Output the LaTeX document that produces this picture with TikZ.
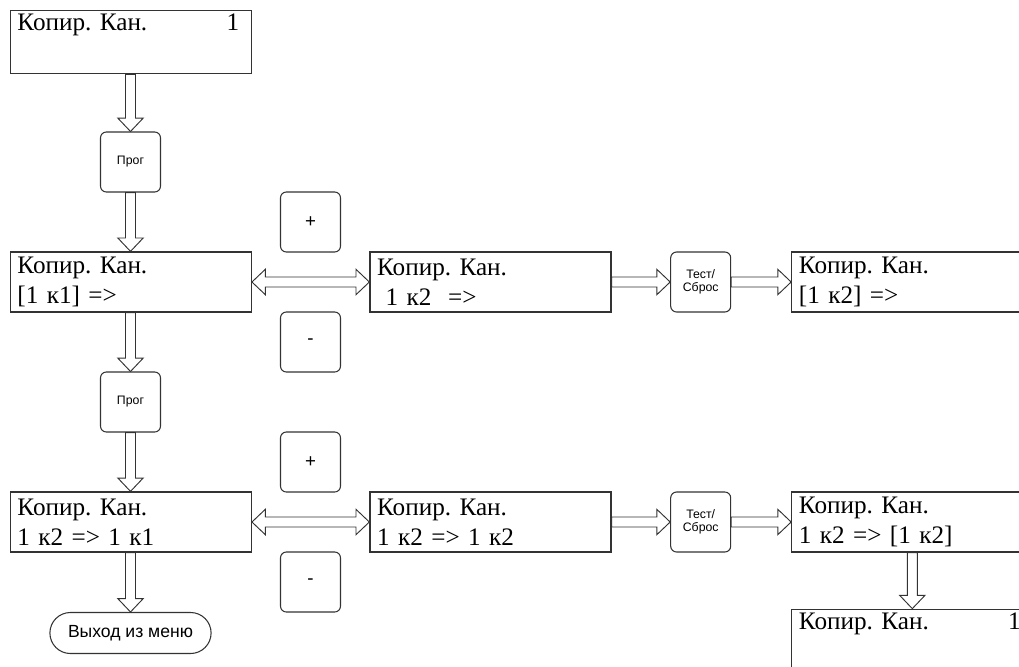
\documentclass[tikz,border=0pt]{standalone}
\usepackage{fontspec}
\setmainfont{Liberation Serif}
\newfontfamily\keyfont{Liberation Sans}
\usetikzlibrary{calc,positioning,shapes.misc}
\frenchspacing

\newcommand{\shaft}{0.15cm}
\newcommand{\head}{0.38cm}
\newcommand{\headlen}{0.4cm}

\begin{document}
\begin{tikzpicture}[
    x=0.03cm, y=-0.03cm,
    screen/.style={draw=black!80, line width=1.1pt, align=left, text width=6.8cm, inner xsep=0.2cm,
                   minimum width=7.23cm, minimum height=1.8cm, font=\fontsize{21.5}{25.6}\selectfont},
    key/.style={draw=black!80, line width=0.9pt, rounded corners=5pt, align=center, minimum width=1.8cm,
                minimum height=1.8cm, inner sep=0pt, font=\keyfont\fontsize{10.5}{11}\selectfont},
    sign/.style={key, font=\keyfont\fontsize{16}{16}\selectfont},
    leave/.style={draw=black!80, line width=0.9pt, rounded rectangle, minimum width=5.07cm,
                  minimum height=1.23cm, font=\keyfont\fontsize{15}{16}\selectfont},
    fat/.style={draw=black!80, line width=0.8pt, fill=white, to path={
        let \p1=($(\tikztotarget)!\headlen!(\tikztostart)$) in
        ($(\tikztostart)!\shaft!90:(\tikztotarget)$) -- ($(\p1)!\shaft!90:(\tikztotarget)$)
        -- ($(\p1)!\head!90:(\tikztotarget)$) -- (\tikztotarget)
        -- ($(\p1)!\head!-90:(\tikztotarget)$) -- ($(\p1)!\shaft!-90:(\tikztotarget)$)
        -- ($(\tikztostart)!\shaft!-90:(\tikztotarget)$) -- cycle}},
    fatboth/.style={draw=black!80, line width=0.8pt, fill=white, to path={
        let \p1=($(\tikztostart)!\headlen!(\tikztotarget)$), \p2=($(\tikztotarget)!\headlen!(\tikztostart)$) in
        (\tikztostart) -- ($(\p1)!\head!90:(\tikztotarget)$) -- ($(\p1)!\shaft!90:(\tikztotarget)$)
        -- ($(\p2)!\shaft!90:(\tikztotarget)$) -- ($(\p2)!\head!90:(\tikztotarget)$) -- (\tikztotarget)
        -- ($(\p2)!\head!-90:(\tikztotarget)$) -- ($(\p2)!\shaft!-90:(\tikztotarget)$)
        -- ($(\p1)!\shaft!-90:(\tikztotarget)$) -- ($(\p1)!\head!-90:(\tikztotarget)$) -- cycle}}
  ]
    \path[use as bounding box, clip] (0,0) rectangle (1019,666);

    % first column
    \node[screen] (start) at (130.8,42) {Копир. Кан.\hfill 1\kern0.15cm\\\strut};
    \node[key] (prog1) at (130.5,162) {Прог};
    \node[screen] (k1) at (130.8,282) {Копир. Кан.\\{[1 к1] =>}};
    \node[key] (prog2) at (130.5,402) {Прог};
    \node[screen] (k2k1) at (130.8,522) {Копир. Кан.\\1 к2 => 1 к1};
    \node[leave] (exit) at (130.5,633) {Выход из меню};

    % +/- keys
    \node[sign] (plus1)  at (310.5,222) {+};
    \node[sign] (minus1) at (310.5,342) {-};
    \node[sign] (plus2)  at (310.5,462) {+};
    \node[sign] (minus2) at (310.5,582) {-};

    % second row
    \node[screen] (k2)   at (490.5,282) {Копир. Кан.\\\ 1 к2 \ =>};
    \node[key]    (test1) at (700.7,282) {Тест/\\Сброс};
    \node[screen] (sel2) at (912.3,282) {Копир. Кан.\\{[1 к2] =>}};

    % third row
    \node[screen] (k2k2)  at (490.5,522) {Копир. Кан.\\1 к2 => 1 к2};
    \node[key]    (test2) at (700.7,522) {Тест/\\Сброс};
    \node[screen] (done)  at (912.3,522) {Копир. Кан.\\1 к2 => [1 к2]};
    \node[screen] (back)  at (912.3,641) {Копир. Кан.\hfill 1\kern0.15cm\\\strut};

    \draw[fat] (start.south -| prog1) to (prog1.north);
    \draw[fat] (prog1.south) to (k1.north -| prog1);
    \draw[fat] (k1.south -| prog1) to (prog2.north);
    \draw[fat] (prog2.south) to (k2k1.north -| prog2);
    \draw[fat] (k2k1.south -| exit) to (exit.north);

    \draw[fatboth] (k1.east) to (k2.west);
    \draw[fatboth] (k2k1.east) to (k2k2.west);

    \draw[fat] (k2.east) to (test1.west);
    \draw[fat] (test1.east) to (sel2.west);
    \draw[fat] (k2k2.east) to (test2.west);
    \draw[fat] (test2.east) to (done.west);
    \draw[fat] (done.south) to (back.north);
\end{tikzpicture}
\end{document}
